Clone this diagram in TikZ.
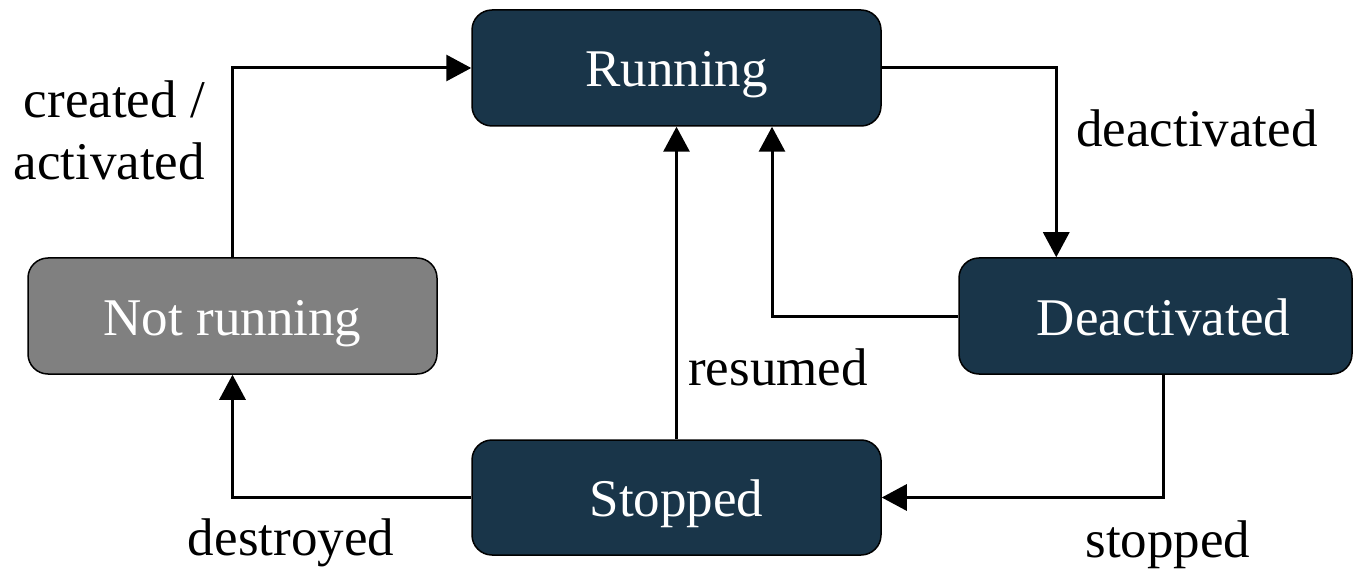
\documentclass[tikz,border=0pt]{standalone}
\usepackage{fontspec}
\setmainfont{Liberation Serif}
\usetikzlibrary{arrows.meta,calc}
\definecolor{navy}{HTML}{193549}
\definecolor{graybox}{HTML}{808080}
\tikzset{
  state/.style={draw=black, line width=1.5pt, rounded corners=20pt, inner sep=0pt,
    minimum width=409pt, minimum height=116pt, text=white,
    text height=38pt, text depth=0pt,
    font=\fontsize{53}{60}\selectfont},
  conn/.style={line width=3pt, -{Triangle[length=25pt,width=26pt]}},
  lbl/.style={font=\fontsize{53}{62}\selectfont, anchor=base, inner sep=0pt}
}
\begin{document}
\begin{tikzpicture}[x=1pt,y=-1pt]
\useasboundingbox (0,0) rectangle (1354,569);
\node[state, fill=navy] (running) at (676.5,68) {Running};
\node[state, fill=graybox] (notrun) at (232.5,316) {Not running};
\node[state, fill=navy, minimum width=393pt] (deact) at (1155.5,316) {\hspace*{16pt}Deactivated};
\node[state, fill=navy, minimum height=115pt] (stopped) at (676.5,497.5) {Stopped};

\coordinate (dtop) at ([xshift=98pt]deact.north west);
\coordinate (rbot) at ([xshift=95.5pt]running.south);
\coordinate (dbot) at ([xshift=8pt]deact.south);

\draw[conn] (notrun.north) |- (running.west);
\draw[conn] (running.east) -| (dtop);
\draw[conn] (deact.west) -| (rbot);
\draw[conn] (stopped.north) -- (running.south);
\draw[conn] (dbot) |- (stopped.east);
\draw[conn] (stopped.west) -| (notrun.south);

\node[lbl, anchor=base east] (lc) at (205,118) {created /};
\node[lbl, anchor=base east] (la) at (205,180) {activated};
\node[lbl] (ld) at (1197,147) {deactivated};
\node[lbl] (lr) at (778,385) {resumed};
\node[lbl] (ls) at (1168,557) {stopped};
\node[lbl] (lx) at (291,555) {destroyed};
\end{tikzpicture}
\end{document}
